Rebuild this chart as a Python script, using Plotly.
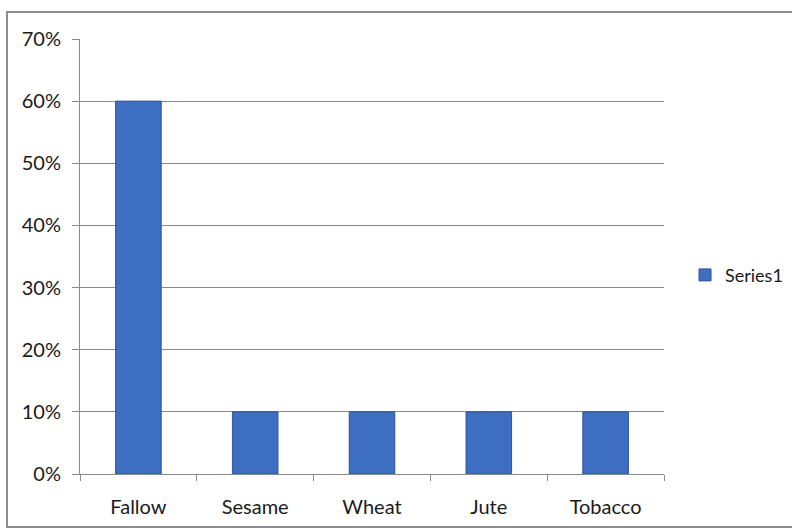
import plotly.graph_objects as go

# Share of land by crop
crops = ["Fallow", "Sesame", "Wheat", "Jute", "Tobacco"]
shares = [0.60, 0.10, 0.10, 0.10, 0.10]
series_name = "Series1"
y_ticks = [0, 0.1, 0.2, 0.3, 0.4, 0.5, 0.6, 0.7]
y_tick_labels = ["0%", "10%", "20%", "30%", "40%", "50%", "60%", "70%"]

BAR = "#3d6ec1"
GRID = "#8a8a8a"
FONT = "Lato, 'Open Sans', sans-serif"

fig = go.Figure(
    go.Bar(
        x=crops,
        y=shares,
        name=series_name,
        width=0.39,
        marker=dict(color=BAR, line=dict(color="#2e5597", width=1)),
        showlegend=True,
    )
)

fig.update_layout(
    width=792,
    height=529,
    margin=dict(l=80, r=128, t=39, b=55, autoexpand=False),
    paper_bgcolor="white",
    plot_bgcolor="white",
    font=dict(family=FONT, size=20, color="#1a1a1a"),
    showlegend=True,
    legend=dict(
        x=1.036, y=0.457, xanchor="left", yanchor="middle",
        font=dict(size=18), itemwidth=30, bgcolor="rgba(0,0,0,0)",
    ),
    bargap=0.61,
    xaxis=dict(
        showline=True, linecolor=GRID, linewidth=1,
        ticks="outside", tickson="boundaries", ticklen=6, tickcolor=GRID,
        showgrid=False, tickfont=dict(size=20), ticklabelstandoff=15,
    ),
    yaxis=dict(
        range=[0, 0.7], tickvals=y_ticks, ticktext=y_tick_labels,
        showline=True, linecolor=GRID, linewidth=1,
        ticks="outside", ticklen=7, tickcolor=GRID,
        showgrid=True, gridcolor=GRID, gridwidth=1,
        zeroline=False, tickfont=dict(size=20), ticklabelstandoff=7,
    ),
    shapes=[
        dict(
            type="rect", xref="paper", yref="paper",
            x0=(7 - 80) / 584, x1=1.5,
            y0=(474 - 527) / 435, y1=(474 - 12) / 435,
            line=dict(color="#8c8c8c", width=2), fillcolor="rgba(0,0,0,0)",
            layer="below",
        )
    ],
)

fig.write_html("out.html")
